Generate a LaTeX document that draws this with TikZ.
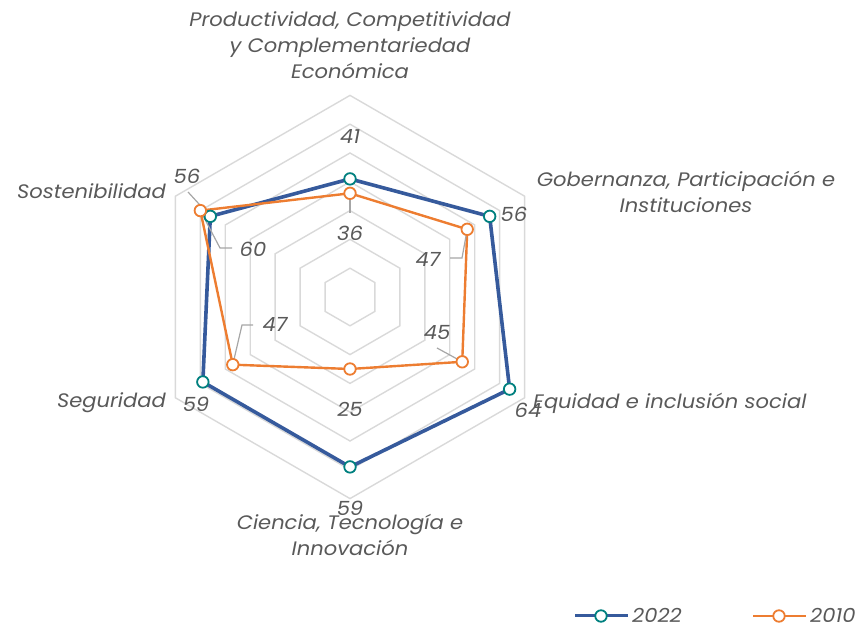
\documentclass[tikz,border=0pt]{standalone}
\usepackage{fontspec}
\setmainfont{Poppins}[FakeStretch=1.08]
\usetikzlibrary{calc}
\definecolor{c22}{HTML}{365A9C}
\definecolor{mk22}{HTML}{00807F}
\definecolor{c10}{HTML}{ED7D31}
\definecolor{gridc}{HTML}{D9D9D9}
\definecolor{txt}{HTML}{595959}
\definecolor{lead}{HTML}{A6A6A6}
\tikzset{
  gridline/.style={draw=gridc, line width=1.4pt},
  ser22/.style={draw=c22, line width=3.6pt, line join=round},
  ser10/.style={draw=c10, line width=2.4pt, line join=round},
  mkA/.style={circle, draw=mk22, fill=white, line width=1.8pt, minimum size=11.5pt, inner sep=0pt},
  mkB/.style={circle, draw=c10, fill=white, line width=1.8pt, minimum size=11.5pt, inner sep=0pt},
  lbl/.style={text=txt, font=\fontsize{19.5}{26}\selectfont\itshape, inner sep=1pt},
  leader/.style={draw=lead, line width=1.2pt},
}
\begin{document}
\begin{tikzpicture}[x=1pt,y=1pt]
\useasboundingbox (0,0) rectangle (860,628);
\coordinate (O) at (350,331);
% grid
\foreach \k in {1,...,7}{
  \draw[gridline] ($(O)+(90:{28.8*\k})$) -- ($(O)+(30:{28.8*\k})$) -- ($(O)+(-30:{28.8*\k})$)
     -- ($(O)+(-90:{28.8*\k})$) -- ($(O)+(210:{28.8*\k})$) -- ($(O)+(150:{28.8*\k})$) -- cycle;
}
% 2022 data
\coordinate (a1) at ($(O)+(90:{41*2.88})$);
\coordinate (a2) at ($(O)+(30:{56*2.88})$);
\coordinate (a3) at ($(O)+(-30:{64*2.88})$);
\coordinate (a4) at ($(O)+(-90:{59*2.88})$);
\coordinate (a5) at ($(O)+(210:{59*2.88})$);
\coordinate (a6) at ($(O)+(150:{56*2.88})$);
% 2010 data
\coordinate (b1) at ($(O)+(90:{36*2.88})$);
\coordinate (b2) at ($(O)+(30:{47*2.88})$);
\coordinate (b3) at ($(O)+(-30:{45*2.88})$);
\coordinate (b4) at ($(O)+(-90:{25*2.88})$);
\coordinate (b5) at ($(O)+(210:{47*2.88})$);
\coordinate (b6) at ($(O)+(150:{60*2.88})$);
\draw[ser22] (a1) -- (a2) -- (a3) -- (a4) -- (a5) -- (a6) -- cycle;
\draw[ser10] (b1) -- (b2) -- (b3) -- (b4) -- (b5) -- (b6) -- cycle;
% leader lines
\coordinate (l36) at (350,415);
\draw[leader] (b1) -- (l36);
\coordinate (l47a) at (462,370); \coordinate (l47b) at (450,370);
\draw[leader] (b2) -- (l47a) -- (l47b);
\coordinate (l45) at (437,280);
\draw[leader] (b3) -- (l45);
\coordinate (l47c) at (242,303); \coordinate (l47d) at (253,303);
\draw[leader] (b5) -- (l47c) -- (l47d);
\coordinate (l56) at (188,436);
\draw[leader] (a6) -- (l56);
\coordinate (l60a) at (220,380); \coordinate (l60b) at (232,380);
\draw[leader] (b6) -- (l60a) -- (l60b);
% markers
\foreach \i in {1,...,6}{
  \node[mkA] (ma\i) at (a\i) {};
}
\foreach \i in {1,...,6}{
  \node[mkB] (mb\i) at (b\i) {};
}
% data labels
\node[lbl] (d41) at (350,491) {41};
\node[lbl] (d36) at (350,395) {36};
\node[lbl] (d56g) at (514,414) {56};
\node[lbl] (d47g) at (428,369) {47};
\node[lbl] (d45) at (437,296) {45};
\node[lbl] (d64) at (528,218) {64};
\node[lbl] (d25) at (350,219) {25};
\node[lbl] (d59c) at (350,120) {59};
\node[lbl] (d59s) at (196,224) {59};
\node[lbl] (d47s) at (275,304) {47};
\node[lbl] (d56s) at (187,452) {56};
\node[lbl] (d60) at (253,379) {60};
% category labels
\node[lbl, align=center] (cP) at (350,583) {Productividad, Competitividad\\y Complementariedad\\Económica};
\node[lbl, align=center] (cG) at (686,436) {Gobernanza, Participación e\\Instituciones};
\node[lbl, anchor=west] (cE) at (532,225) {Equidad e inclusión social};
\node[lbl, align=center] (cC) at (350,93) {Ciencia, Tecnología e\\Innovación};
\node[lbl, anchor=east] (cS) at (167,225) {Seguridad};
\node[lbl, anchor=east] (cSo) at (167,437) {Sostenibilidad};
% legend
\coordinate (g1) at (575,12); \coordinate (g2) at (628,12);
\draw[ser22, line width=3pt] (g1) -- (g2);
\node[mkA] (gm1) at (601,12) {};
\node[lbl, anchor=west, inner sep=0pt] (gt1) at (632,13) {2022};
\coordinate (h1) at (753,12); \coordinate (h2) at (806,12);
\draw[ser10] (h1) -- (h2);
\node[mkB] (gm2) at (779,12) {};
\node[lbl, anchor=west, inner sep=0pt] (gt2) at (810,13) {2010};
\end{tikzpicture}
\end{document}
